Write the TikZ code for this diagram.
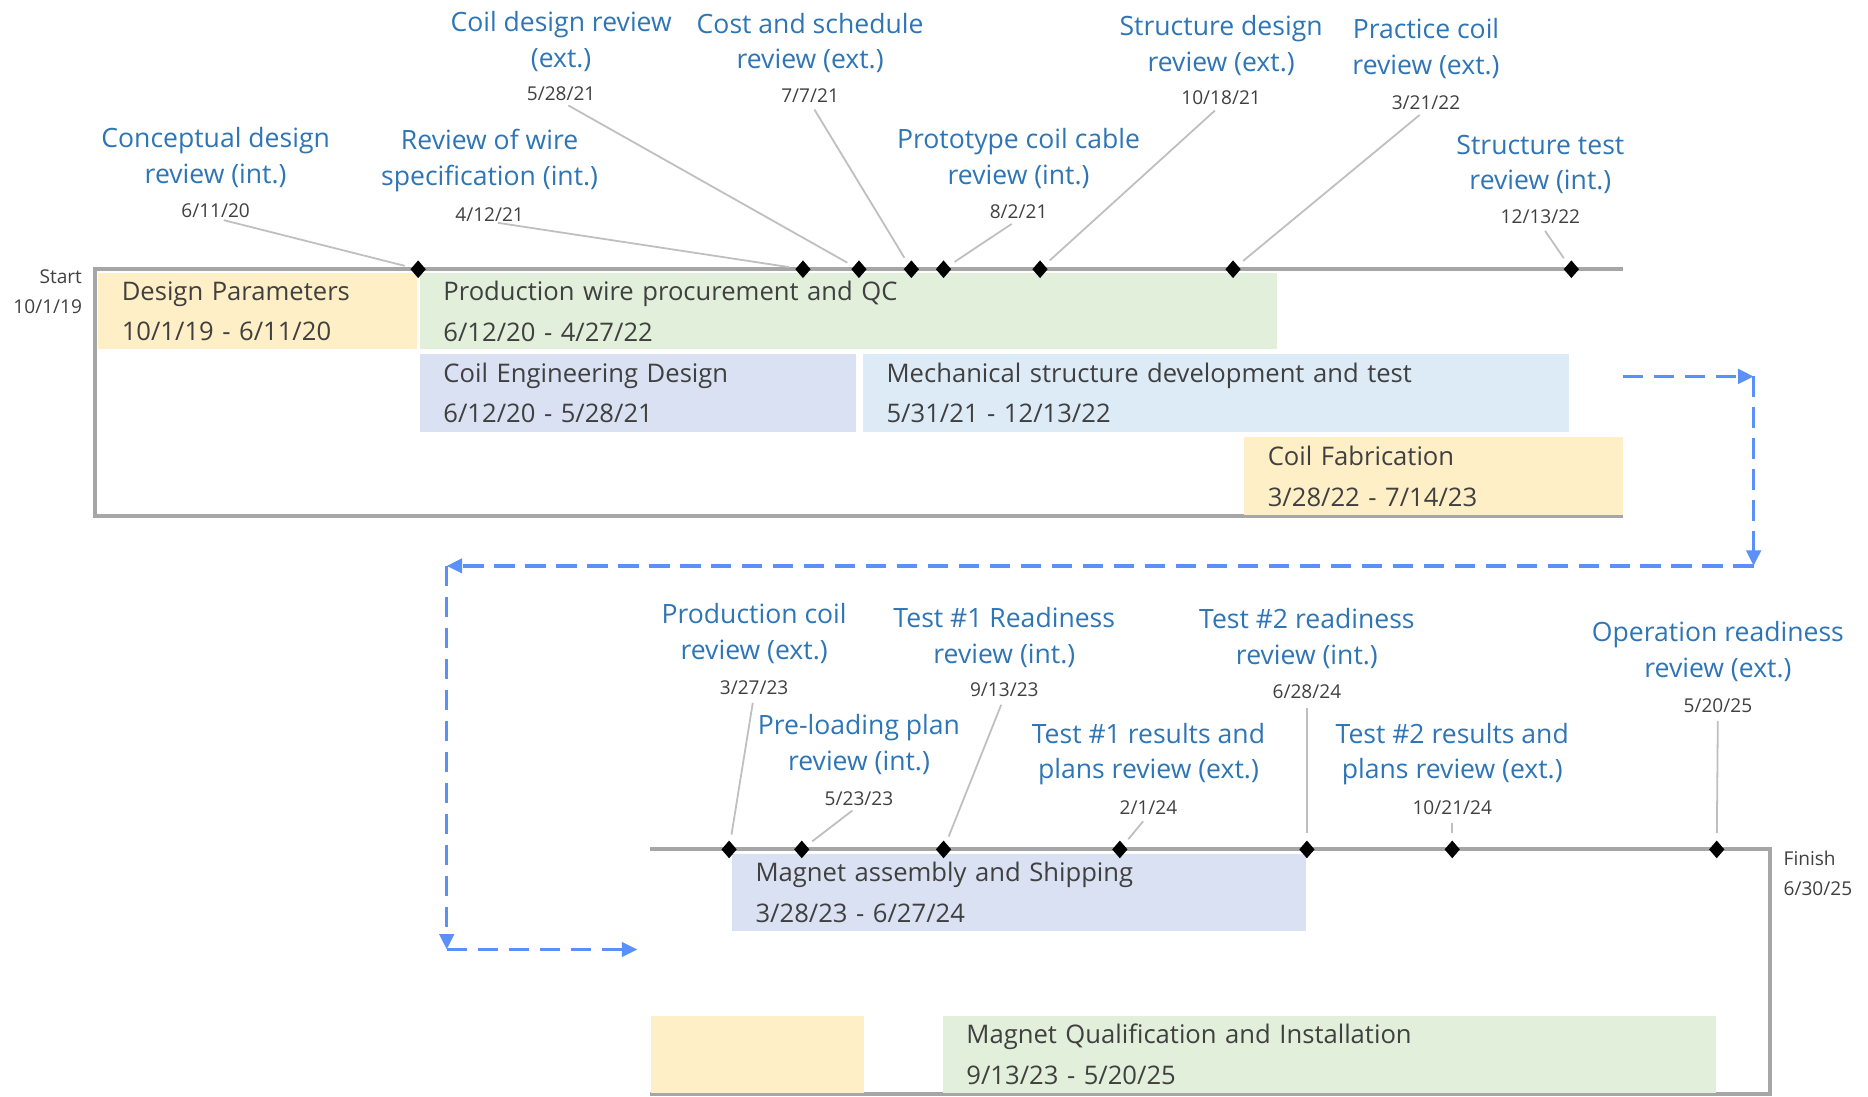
\documentclass[tikz,border=0pt]{standalone}
\usepackage{fontspec}
\setmainfont{Open Sans}
\usetikzlibrary{arrows.meta,shapes.geometric}
\definecolor{cyel}{HTML}{FFEFC6}
\definecolor{cgrn}{HTML}{E2EFDA}
\definecolor{clav}{HTML}{D9E1F2}
\definecolor{cblu}{HTML}{DDEBF7}
\definecolor{lblue}{HTML}{2E75B6}
\definecolor{dgray}{HTML}{404040}
\definecolor{lgray}{HTML}{A6A6A6}
\definecolor{leadgray}{HTML}{BFBFBF}
\definecolor{arrblue}{HTML}{5B8FF9}
\tikzset{
  tl/.style={draw=lgray,line width=3.4pt},
  mstone/.style={diamond,fill=black,draw=none,inner sep=0pt,minimum width=13pt,minimum height=15pt},
  lbl/.style={text=lblue,font=\fontsize{22.3}{30}\selectfont,align=center,inner sep=0pt},
  dt/.style={text=dgray,font=\fontsize{16}{25}\selectfont,inner sep=0pt},
  lead/.style={draw=leadgray,line width=1.5pt,shorten <=7pt,shorten >=6pt},
  barbox/.style={anchor=north west,inner ysep=0pt,inner xsep=20pt,align=left,text=dgray,
     font=\fontsize{21.5}{34}\selectfont},
  darr/.style={draw=arrblue,line width=2.8pt,dash pattern=on 17pt off 9pt,
     -{Triangle[length=13pt,width=12pt]}}
}
\begin{document}
\begin{tikzpicture}[x=1pt,y=-1pt]
\useasboundingbox (0,0) rectangle (1568,920);
% ---------- top section ----------
\coordinate (ts) at (80,226);
\coordinate (te) at (1362,226);
\coordinate (fbl) at (80,433);
\coordinate (fbr) at (1362,433);
\draw[tl] (te) -- (ts) -- (fbl) -- (fbr);
\node[dt,align=right,anchor=east] (start) at (69,245) {Start\\10/1/19};

\node[barbox,fill=cyel,text width=228pt,minimum height=64pt] (dp) at (82,229) {Design Parameters\\10/1/19 - 6/11/20};
\node[barbox,fill=cgrn,text width=680pt,minimum height=64pt] (pw) at (352,229) {Production wire procurement and QC\\6/12/20 - 4/27/22};
\node[barbox,fill=clav,text width=326pt,minimum height=65pt] (ce) at (352,297) {Coil Engineering Design\\6/12/20 - 5/28/21};
\node[barbox,fill=cblu,text width=553pt,minimum height=65pt] (msd) at (724,297) {Mechanical structure development and test\\5/31/21 - 12/13/22};
\node[barbox,fill=cyel,text width=278pt,minimum height=65pt] (cf) at (1044,367) {Coil Fabrication\\3/28/22 - 7/14/23};

\node[mstone] (m1) at (351,226) {};
\node[mstone] (m2) at (674,226) {};
\node[mstone] (m3) at (721,226) {};
\node[mstone] (m4) at (765,226) {};
\node[mstone] (m5) at (792,226) {};
\node[mstone] (m6) at (873,226) {};
\node[mstone] (m7) at (1035,226) {};
\node[mstone] (m8) at (1319,226) {};

\node[lbl] (l1) at (181,132) {Conceptual design\\review (int.)};
\node[dt] (d1) at (181,177) {6/11/20};
\node[lbl] (l2) at (411,135) {Review of wire\\specification (int.)};
\node[dt] (d2) at (411,180) {4/12/21};
\node[lbl] (l3) at (471,35) {Coil design review\\(ext.)};
\node[dt] (d3) at (471,79) {5/28/21};
\node[lbl] (l4) at (680,36) {Cost and schedule\\review (ext.)};
\node[dt] (d4) at (680,80) {7/7/21};
\node[lbl] (l5) at (855,133) {Prototype coil cable\\review (int.)};
\node[dt] (d5) at (855,178) {8/2/21};
\node[lbl] (l6) at (1025,38) {Structure design\\review (ext.)};
\node[dt] (d6) at (1025,82) {10/18/21};
\node[lbl] (l7) at (1197,41) {Practice coil\\review (ext.)};
\node[dt] (d7) at (1197,86) {3/21/22};
\node[lbl] (l8) at (1293,138) {Structure test\\review (int.)};
\node[dt] (d8) at (1293,182) {12/13/22};

\draw[lead] (d1.south) -- (m1);
\draw[lead] (d2.south) -- (m2);
\draw[lead] (d3.south) -- (m3);
\draw[lead] (d4.south) -- (m4);
\draw[lead] (d5.south) -- (m5);
\draw[lead] (d6.south) -- (m6);
\draw[lead] (d7.south) -- (m7);
\draw[lead] (d8.south) -- (m8);

% ---------- connector ----------
\coordinate (a0) at (1362,316);
\coordinate (a1) at (1472,316);
\coordinate (a2) at (1472,475);
\coordinate (a3) at (375,475);
\coordinate (a4) at (375,797);
\coordinate (a5) at (535,797);
\draw[darr] (a0) -- (a1);
\draw[darr] (a1) -- (a2);
\draw[darr] (a2) -- (a3);
\draw[darr] (a3) -- (a4);
\draw[darr] (a4) -- (a5);

% ---------- bottom section ----------
\coordinate (bs) at (546,713);
\coordinate (be) at (1486,713);
\coordinate (bbr) at (1486,918);
\coordinate (bbl) at (546,918);
\draw[tl] (bs) -- (be) -- (bbr) -- (bbl);
\node[dt,align=left,anchor=west] (finish) at (1497,733) {Finish\\6/30/25};

\node[barbox,fill=clav,text width=442pt,minimum height=64pt] (mas) at (614,717) {Magnet assembly and Shipping\\3/28/23 - 6/27/24};
\node[barbox,fill=cyel,text width=139pt,minimum height=64pt] (yb) at (546,853) {};
\node[barbox,fill=cgrn,text width=609pt,minimum height=64pt] (mq) at (791,853) {Magnet Qualification and Installation\\9/13/23 - 5/20/25};

\node[mstone] (n1) at (612,713) {};
\node[mstone] (n2) at (673,713) {};
\node[mstone] (n3) at (792,713) {};
\node[mstone] (n4) at (940,713) {};
\node[mstone] (n5) at (1097,713) {};
\node[mstone] (n6) at (1219,713) {};
\node[mstone] (n7) at (1441,713) {};

\node[lbl] (k1) at (633,532) {Production coil\\review (ext.)};
\node[dt] (e1) at (633,577) {3/27/23};
\node[lbl] (k2) at (721,625) {Pre-loading plan\\review (int.)};
\node[dt] (e2) at (721,670) {5/23/23};
\node[lbl] (k3) at (843,535) {Test \#1 Readiness\\review (int.)};
\node[dt] (e3) at (843,579) {9/13/23};
\node[lbl] (k4) at (964,633) {Test \#1 results and\\plans review (ext.)};
\node[dt] (e4) at (964,678) {2/1/24};
\node[lbl] (k5) at (1097,536) {Test \#2 readiness\\review (int.)};
\node[dt] (e5) at (1097,581) {6/28/24};
\node[lbl] (k6) at (1219,633) {Test \#2 results and\\plans review (ext.)};
\node[dt] (e6) at (1219,678) {10/21/24};
\node[lbl] (k7) at (1442,547) {Operation readiness\\review (ext.)};
\node[dt] (e7) at (1442,592) {5/20/25};

\draw[lead] (e1.south) -- (n1);
\draw[lead] (e2.south) -- (n2);
\draw[lead] (e3.south) -- (n3);
\draw[lead] (e4.south) -- (n4);
\draw[lead] (e5.south) -- (n5);
\draw[lead] (e6.south) -- (n6);
\draw[lead] (e7.south) -- (n7);
\end{tikzpicture}
\end{document}
